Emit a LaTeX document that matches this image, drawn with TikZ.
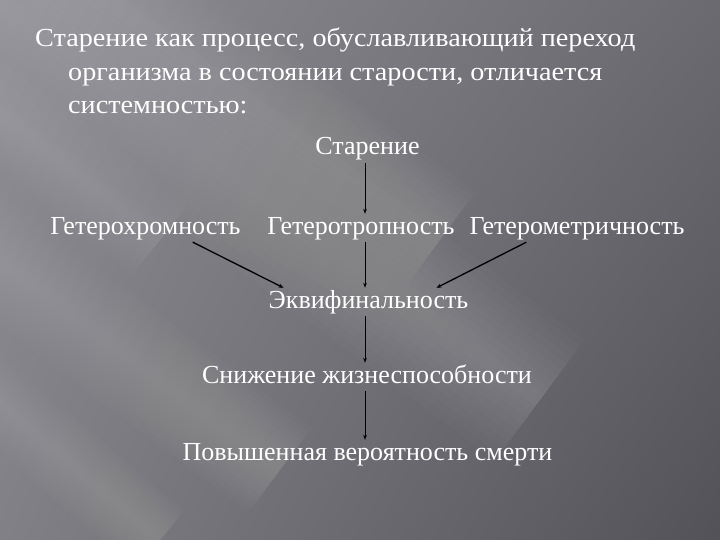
\documentclass[tikz,border=0pt]{standalone}
\usepackage{fontspec}
\setmainfont{Liberation Serif}
\newfontfamily\headfont{Liberation Serif}[FakeStretch=1.085]
\usetikzlibrary{arrows.meta,shadings}
\definecolor{bgUL}{RGB}{142,142,148}
\definecolor{bgUR}{RGB}{106,106,112}
\definecolor{bgLL}{RGB}{128,128,134}
\definecolor{bgLR}{RGB}{82,82,88}
\begin{document}
\begin{tikzpicture}[x=1pt,y=-1pt,
  txt/.style={text=white, font=\rmfamily\fontsize{26}{30}\selectfont, inner sep=2pt, text height=18pt, text depth=6pt},
  head/.style={txt, font=\headfont\fontsize{26}{30}\selectfont, anchor=base west},
  arr/.style={-{Stealth[length=5pt,width=3.5pt]}, black, line width=0.8pt},
  darr/.style={-{Stealth[length=5pt,width=4pt]}, black, line width=1.3pt},
  streak/.style={white, opacity=0.016, line cap=butt}]
\useasboundingbox (0,0) rectangle (720,540);
\shade[upper left=bgUL, upper right=bgUR, lower left=bgLL, lower right=bgLR] (0,0) rectangle (720,540);
\begin{scope}
\clip (0,0) rectangle (720,540);
\foreach \w in {150,135,...,15} {
  \draw[streak, line width=\w pt] (-40,-30) -- (540,400);
  \draw[streak, line width=0.7*\w pt] (-40,230) -- (280,470);
  \draw[streak, line width=0.5*\w pt] (-40,370) -- (160,540);
  \draw[streak, line width=0.6*\w pt] (-40,80) -- (160,240);
  \draw[streak, line width=0.8*\w pt] (60,-40) -- (440,240);
}
\end{scope}
\node[head] (l1) at (33,47) {Старение как процесс, обуславливающий переход};
\node[head] (l2) at (66,81) {организма в состоянии старости, отличается};
\node[head] (l3) at (66,114) {системностью:};
\node[txt, anchor=base] (star) at (367.5,155) {Старение};
\node[txt, anchor=base] (het1) at (145.5,234) {Гетерохромность};
\node[txt, anchor=base] (het2) at (361,234) {Гетеротропность};
\node[txt, anchor=base] (het3) at (577,234) {Гетерометричность};
\node[txt, anchor=base] (ekv) at (368.5,308) {Эквифинальность};
\node[txt, anchor=base] (sniz) at (367,383) {Снижение жизнеспособности};
\node[txt, anchor=base] (pov) at (367.5,460) {Повышенная вероятность смерти};
\draw[arr] ([xshift=-2.5pt]star.south) -- ([xshift=-2.5pt]star.south |- het2.north);
\draw[arr] ([xshift=4pt]het2.south) -- ([xshift=4pt]het2.south |- ekv.north);
\draw[darr] ([xshift=-50pt]het1.south east) -- ([xshift=17pt]ekv.north west);
\draw[darr] ([xshift=59pt]het3.south west) -- ([xshift=-34pt]ekv.north east);
\draw[arr] ([xshift=-3.5pt]ekv.south) -- ([xshift=-3.5pt]ekv.south |- sniz.north);
\draw[arr] ([xshift=-2pt]sniz.south) -- ([xshift=-2pt]sniz.south |- pov.north);
\end{tikzpicture}
\end{document}
